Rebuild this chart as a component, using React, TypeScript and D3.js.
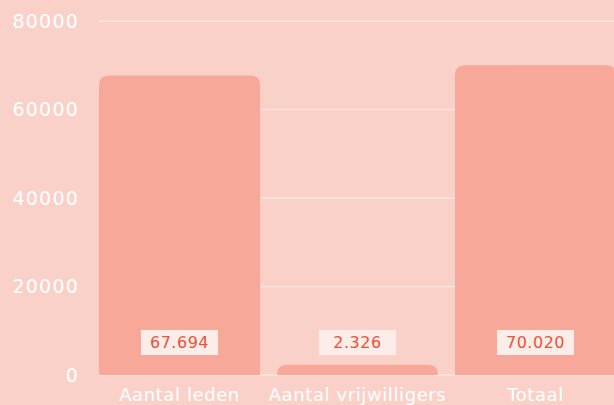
import React from "react";
import * as d3 from "d3";

const categories = ["Aantal leden", "Aantal vrijwilligers", "Totaal"];
const values = [67694, 2326, 70020];
const valueLabels = ["67.694", "2.326", "70.020"];
const yTicks = [0, 20000, 40000, 60000, 80000];

const W = 614;
const H = 405;

export default function App() {
  const y = d3.scaleLinear().domain([0, 80000]).range([375, 21]);
  const x = d3
    .scaleBand<string>()
    .domain(categories)
    .range([90.5, 90.5 + 178 * 3])
    .paddingInner(0.095)
    .paddingOuter(0.0475);
  const bw = x.bandwidth();
  const r = 10;
  const font = "'DejaVu Sans', Verdana, sans-serif";

  const barPath = (cx0: number, top: number, bottom: number) => {
    const h = bottom - top;
    const rr = Math.min(r, h, bw / 2);
    const p = d3.path();
    p.moveTo(cx0, bottom);
    p.lineTo(cx0, top + rr);
    p.quadraticCurveTo(cx0, top, cx0 + rr, top);
    p.lineTo(cx0 + bw - rr, top);
    p.quadraticCurveTo(cx0 + bw, top, cx0 + bw, top + rr);
    p.lineTo(cx0 + bw, bottom);
    p.closePath();
    return p.toString();
  };

  return (
    <svg
      width={W}
      height={H}
      style={{ position: "fixed", left: 0, top: 0, display: "block" }}
    >
      <rect x={0} y={0} width={W} height={H} fill="#FAD1C9" />
      {yTicks.map((t) => (
        <g key={t}>
          <line
            x1={99}
            x2={W}
            y1={y(t)}
            y2={y(t)}
            stroke="#FCE3DE"
            strokeWidth={1.5}
          />
          <text
            x={79}
            y={y(t)}
            dy="0.36em"
            textAnchor="end"
            fill="#FFFFFF"
            fontSize={19}
            letterSpacing={1.2}
            fontFamily={font}
          >
            {t}
          </text>
        </g>
      ))}
      {categories.map((c, i) => {
        const x0 = x(c)!;
        const cx = x0 + bw / 2;
        return (
          <g key={c}>
            <path d={barPath(x0, y(values[i]), y(0))} fill="#F7A898" />
            <rect x={cx - 38.5} y={330} width={77} height={25} fill="#FDEDE9" />
            <text
              x={cx}
              y={342.5}
              dy="0.36em"
              textAnchor="middle"
              fill="#F0503A"
              fontSize={16}
              letterSpacing={0.5}
              fontFamily={font}
            >
              {valueLabels[i]}
            </text>
            <text
              x={cx}
              y={401}
              textAnchor="middle"
              fill="#FFFFFF"
              fontSize={18}
              letterSpacing={0.6}
              fontFamily={font}
            >
              {c}
            </text>
          </g>
        );
      })}
    </svg>
  );
}
